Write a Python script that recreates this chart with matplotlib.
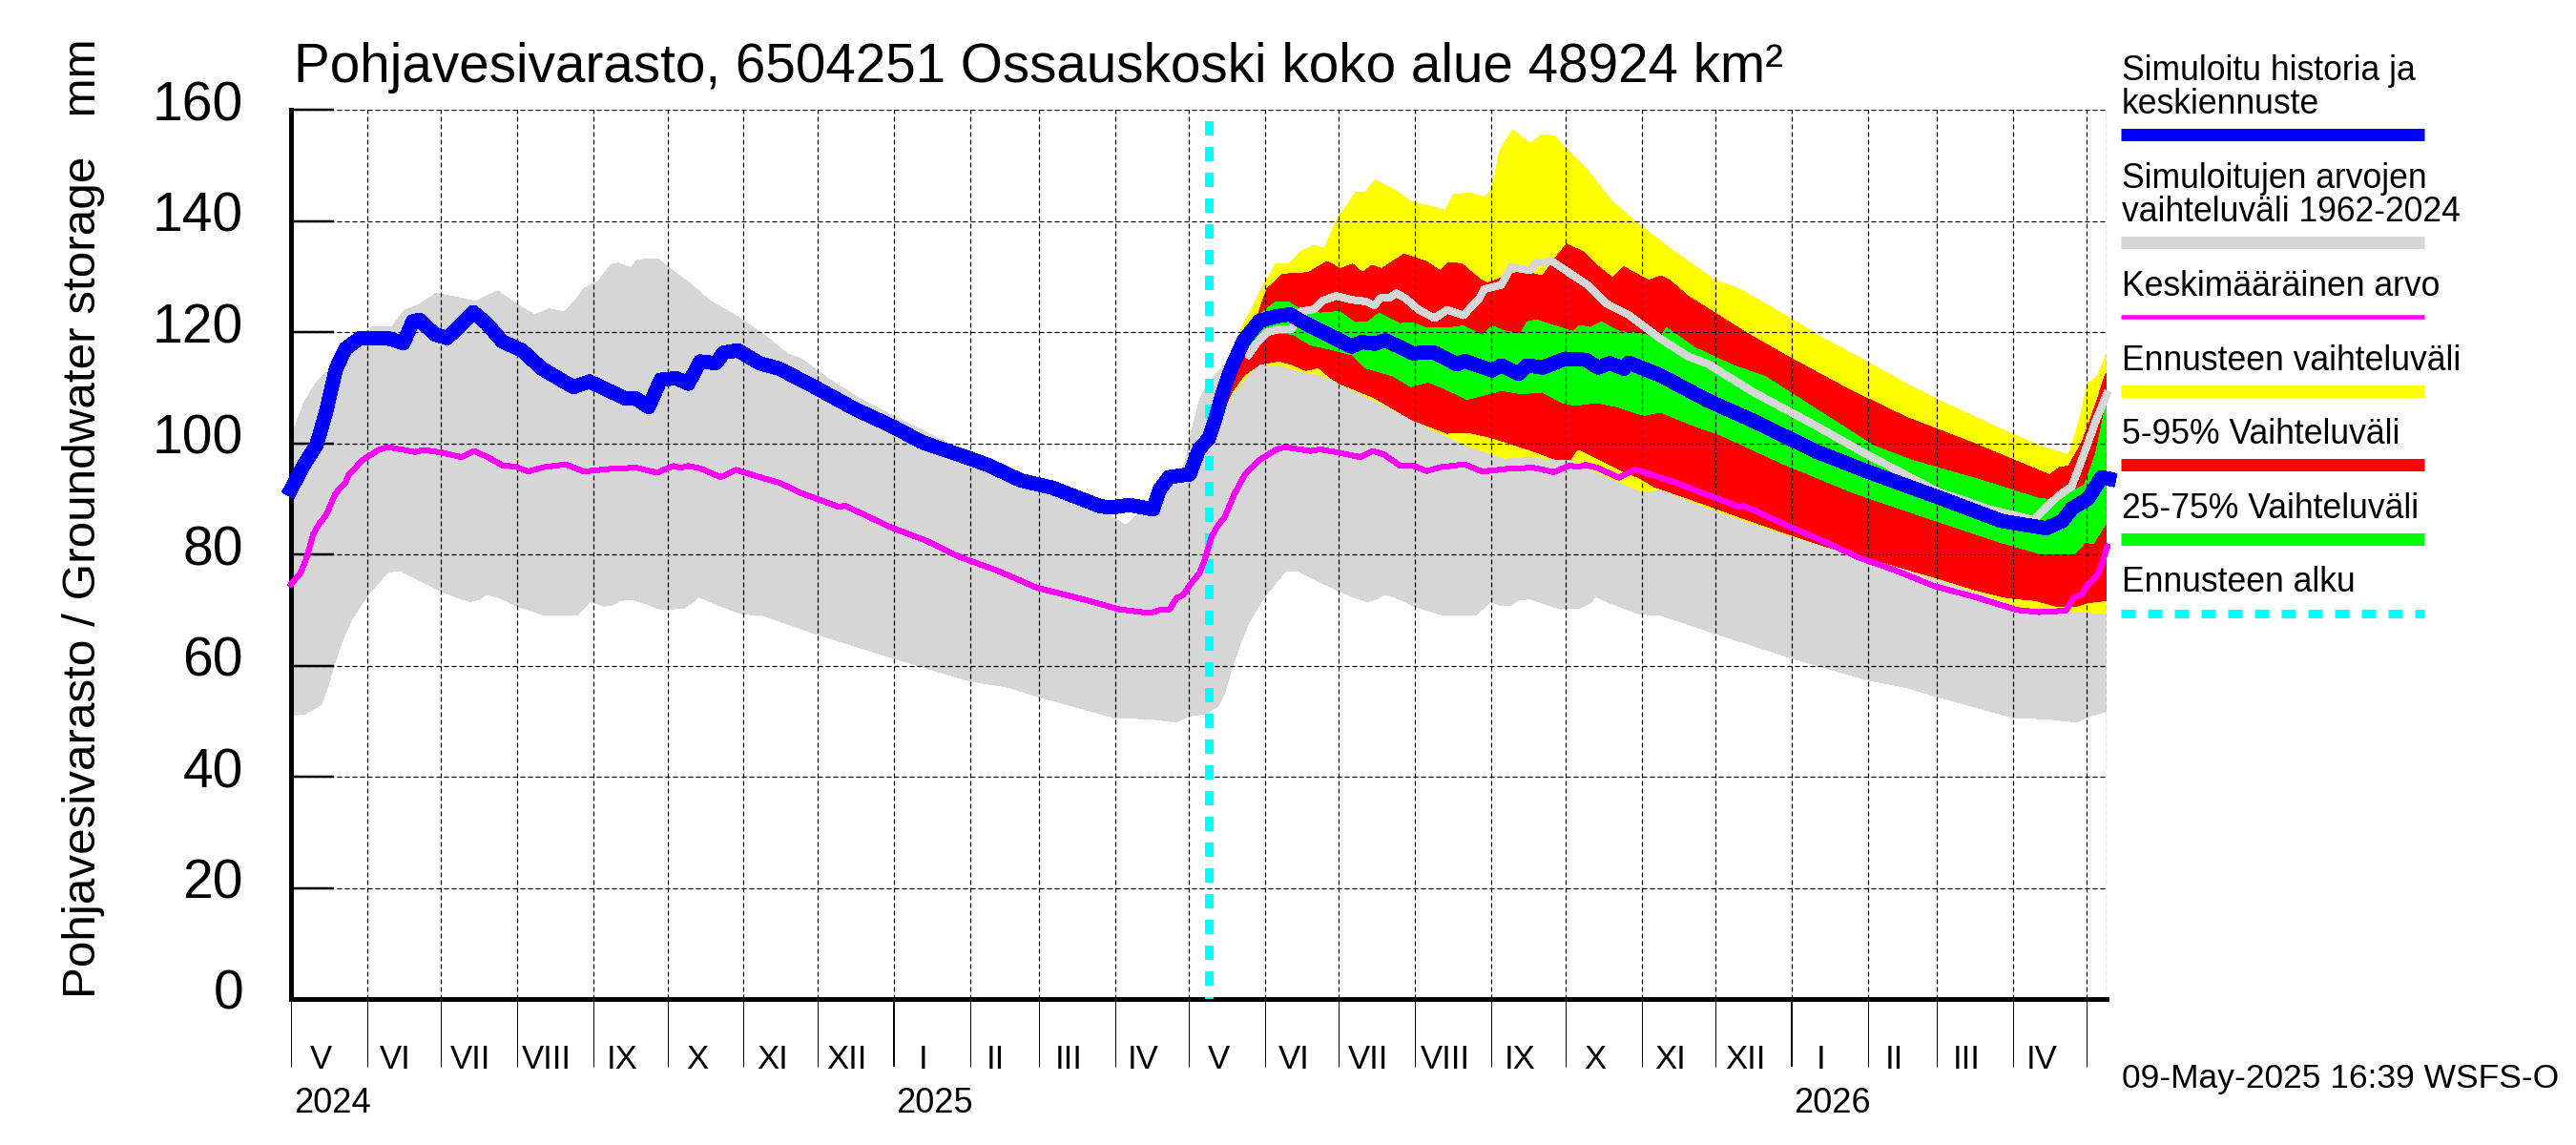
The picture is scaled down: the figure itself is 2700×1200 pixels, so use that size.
import numpy as np
import pandas as pd
import matplotlib
matplotlib.use('Agg')
import matplotlib.pyplot as plt
from matplotlib.lines import Line2D
from matplotlib.transforms import ScaledTranslation, blended_transform_factory

# all series are (days since 2024-05-01, mm)
gray_upper = [(0,101),(5.5,107.5),(10,110.7),(17,114),(23,117.3),(33,120.9),(41,120.9),(46,123.9),(52,124.9),(59,127),
              (68,126.2),(75,125.5),(84,127.4),(91,125.2),(99,123.1),(105,124.2),(111,123.6),(116,125.9),(119,127.8),(125,129.2),
              (130,132.1),(133,132.4),(138,131.6),(141,133),(149,133.2),(155,131.1),(162,128.8),(170,125.7),(181,122.9),(192,119.6),
              (202,116),(207,115.3),(219,111.4),(232,107.8),(248,104.2),(267,100),(277,98),(303,93.3),(322,89.9),(339.4,85.2),
              (345.9,87.9),(358.8,93),(363.3,96.2),(365.9,101.9),(369.5,108),(373,111),(379.5,114),(382.7,114.5)]
gray_line = [(389.2,115.9),(392.4,117.9),(397,120),(401.5,120.5),(406.7,120.5),(410.5,123.7),(415.7,124.1),(419.6,125.7),(424.8,126.5),
             (431.2,125.8),(437,125.5),(440.3,124.8),(442.9,126.1),(446.7,126.2),(449.3,127),(453.2,126),(458.4,124),(464.8,122.5),
             (470,124),(476.5,123),(483,126),(484.9,127.7),(492,128.5),(495.9,131.7),(503.6,131.1),(506.2,132.5),(512.7,132.7),
             (520.4,130.4),(526.9,128.5),(534.7,125.1),(543.7,123.1),(556.6,118.8),(568,115.6),(575.8,114.3),(594,109.3),(620,103.1),
             (640.8,97.9),(669.4,91.3),(690,88.2),(708.3,86.2),(713,88.2),(718.3,90.5),(723.8,92.2),(728.5,97.7),(733.5,103.9),(738,108.8)]
gray_lower = [(0,51),(5.8,51.3),(12.3,53),(14.9,56.1),(17.5,60.1),(21.3,65),(24.6,68.2),(31,72.6),(39.4,76.8),(44.3,77.1),
              (52.4,75.3),(61.4,73.3),(67.9,72.2),(72.8,71.5),(76.3,71.9),(79.5,72.8),(84.7,72.2),(92.4,70.6),(102.8,69.1),(116.4,69.1),
              (121.5,71.5),(127.4,70.7),(130.6,70.9),(133.8,71.7),(139,71.9),(150.6,70.1),(159.7,70.3),(163.6,71.5),(165.5,72.4),(171.3,71.3),
              (183,69.3),(192,69),(214,65.6),(245,61.3),(276,57.2),(291.6,56.1),(303.8,54.4),(334.9,50.6),(349.7,50.4),(360,49.8),
              (364.6,50.9),(371.7,51.3),(376.9,52.7),(379.5,55),(382,59),(386,64.1),(389.2,67.6),(395.7,72.4),(404.3,77),(409,77.1),
              (417,75.3),(426,73.4),(432.5,72.2),(437.4,71.5),(441,71.9),(444.4,72.8),(449.3,72.2),(457,70.6),(468,69.1),(481.7,69.1),
              (487.5,71.5),(492,70.8),(495.9,70.9),(499,71.8),(503.6,72),(515.9,70.2),(524.3,70.4),(528.2,71.3),(530.1,72.4),(536,71.3),
              (547.6,69.3),(557.3,69),(578.6,65.8),(609.7,61.4),(640.7,57.4),(656.2,56.1),(669.2,54.4),(700.2,50.6),(714.4,50.4),(726,49.8),
              (729.9,50.7),(738.3,51.8)]
mean_line = [(0,74.6),(3.9,76.7),(6.5,79.6),(9,83.6),(11.6,85.6),(14.2,87),(18.1,91),(22,92.8),(23.3,94.2),(29.1,97),
             (35.6,98.8),(39.2,99.3),(43.3,99),(45.9,98.8),(50.4,98.4),(53.7,98.8),(61.4,98.3),(69.2,97.5),(74.3,98.6),(79.5,97.6),
             (86,96),(91.2,95.8),(96.3,94.9),(102.8,95.7),(111.8,96.2),(119,94.9),(130,95.4),(140.3,95.6),(148.7,94.7),(155.2,95.9),
             (158.4,95.6),(161.6,95.9),(166.2,95.5),(174.6,93.9),(181,95.2),(192,93.7),(198.5,92.9),(207.5,91),(223,88.5),(225,88.8),
             (243.7,84.9),(258,82.5),(272,79.5),(286.4,77.2),(303.2,74),(321.3,72),(336.8,70.1),(345.9,69.6),(350.4,69.6),(353,70),
             (356.9,70),(360.1,72.2),(362.7,72.7),(365.3,74.5),(369.1,76.5),(371,78.5),(374.3,83.3),(376.9,85.3),(379.5,86.7),(383.4,90.8),
             (387.9,94.5),(393.7,97),(400.2,98.8),(404,99.3),(414.4,98.6),(418.3,98.9),(426,98.3),(434.5,97.5),(439.6,98.6),(444.2,98),
             (450.6,96),(455.8,96),(461.6,95),(467.4,95.7),(477.1,96.2),(484.2,94.9),(494.6,95.4),(504.9,95.6),(513.3,94.8),(519.8,96),
             (523,95.7),(526.3,96.1),(530.8,95.6),(539.8,93.8),(546.3,95.3),(556.6,93.8),(563.1,92.9),(572.2,91.3),(589,88.5),(590.3,88.8),
             (609,85),(623.9,82.2),(636.8,79.5),(651,77.3),(667.9,74.3),(684.7,72.3),(701.5,70),(710.5,69.6),(715.7,69.7),(721.5,69.9),
             (724.8,72.3),(728,72.8),(730.6,74.7),(734.4,76.4),(736.4,78.7),(738.3,81.4)]
blue_line = [(0,91.7),(5.5,96.3),(10.3,99.6),(14.2,105.5),(18.3,113.4),(22.2,117),(28,118.9),(39.2,118.9),(45.7,118),(49.5,121.9),
             (52.1,122.2),(58.5,119.6),(63.4,118.9),(69.8,121.6),(74,123.6),(79.4,121.6),(85.9,118.3),(93.9,116.7),(102,113.4),(114.8,110.1),
             (121.3,111.1),(135.7,108.1),(140,108.1),(145.4,106.5),(150.2,111.4),(156.6,111.7),(161.5,110.7),(166.3,114.7),(172.7,114.4),(175.9,116.3),
             (181.7,116.7),(190.4,114.4),(198.5,113.4),(212.9,110.1),(229,106.2),(245,102.9),(256.4,100.2),(275.6,97.3),(283.7,96),(296.6,93.3),
             (309.4,92),(328.7,88.7),(332.9,88.4),(340.7,88.9),(350.4,88.1),(353,91.6),(356.9,93.9),(365.3,94.4),(369.2,99),(373,100.8),
             (375.6,104.2),(378.9,109.3),(382.1,113.4),(387.3,118.5),(393.7,122),(400.2,122.8),(406,123.2),(410.5,122),(414.4,121.1),(424.8,118.8),
             (431.2,117.4),(435.1,118.2),(440.3,117.9),(444.8,118.5),(449.3,117.6),(455.8,116.2),(464.8,116.3),(473.9,114.2),(477.1,114.8),(488.1,113.1),
             (492,114),(499.1,112.5),(502.4,114),(508.8,113.6),(517.9,115.2),(526.3,115),(531.4,113.6),(536,114.4),(541.8,113.4),(543.7,114.5),
             (556.6,112.2),(575.8,107.7),(594,104.1),(620,98.5),(640.8,94.9),(669.4,90.3),(695.3,86),(713.5,84.7),(720,86),(724,88.3),
             (730.4,90),(736,93.9),(739,93.6)]
yellow_upper = [(373,100.8),(376,105),(380,110),(383,115),(386.2,120.5),(395.3,128.4),(400.5,132.3),(405.7,132.3),(410.9,134.6),(416,135.6),
                (420,135),(425.1,140.2),(430.3,143.5),(433,145.2),(436.8,145.2),(440.7,147.3),(449.8,145.2),(455,143.5),(469.3,141.9),(472.7,144.8),
                (479.7,145),(484.9,144.2),(488,145.5),(491.4,152.7),(496.6,156.3),(503.9,153.9),(508.3,155.5),(513.5,155.3),(518.7,152.7),(526.5,149.4),
                (536.9,143.5),(549.9,138.6),(562.8,134.3),(578.4,129.4),(588.8,127.7),(607,123.1),(622.6,118.9),(640.8,114.6),(656.4,110.7),(674.6,106.7),
                (695.3,102.5),(711,99.5),(722.6,97.9),(726.5,103.4),(730.4,110.7),(734.3,112),(738.2,116.2)]
yellow_lower = [(373,100.8),(382.7,109),(389.9,112.8),(393.7,114.2),(402.8,113.9),(411.8,112.8),(419.6,112.2),(426,110.8),(437.7,108.2),(450.6,105.6),
                (463.6,102.5),(477.8,99.6),(493.3,97.3),(503.6,97.6),(514,97),(520.4,97),(528.2,95.3),(549,91.3),(557.3,91.7),(578.6,87.9),
                (609.7,83.3),(633,80.2),(669,75.6),(691,72.4),(701.5,70.4),(717,69.9),(722.2,69.6),(729.9,69.6),(738.2,69.3)]
red_upper = [(376,103),(383.6,111.3),(390,119.2),(396.6,127.7),(403,130.4),(413.5,130.7),(421.2,132.7),(426.4,131.4),(431.6,132.2),(435.5,130.7),
             (439.4,132),(443.3,131.4),(452.4,134),(461.5,132.7),(467.2,131),(470.6,132.5),(475.8,132.3),(483.6,129.4),(486.2,128.8),(500,131),
             (508.8,130.1),(514.6,133.7),(518.5,135.8),(525,134.5),(530.8,132),(537.3,129.7),(541.8,131.7),(548.9,130),(552.1,129.3),(556.6,130.1),
             (560.2,129.4),(568,126.4),(581,122.8),(591.4,119.9),(609.6,115.3),(633,109.7),(656.4,104.7),(685,99.8),(714.8,94.3),(718.7,95.6),
             (722.6,95.9),(727.8,100),(729.2,101.6),(733.5,106.9),(737.4,112.3),(738.2,112.6)]
red_lower = [(376,103),(382.7,109.4),(387.3,112.2),(393.7,114.2),(401.5,114.8),(406.7,114.2),(412.5,113.1),(417.7,113.6),(422.2,111.9),(426,110.8),
             (440.3,108.2),(455.8,104.2),(470,101.8),(479,101.9),(488.1,101),(503.6,98.8),(514.6,97),(519.8,97),(523,99),(530.8,97.3),
             (539.8,95.3),(548.9,93.6),(554,92.2),(574.8,89),(589,86.7),(609,83.6),(629,80.7),(638,79.9),(652.3,77.9),(667.9,75.9),
             (684.7,73.6),(697.6,72.2),(709.2,71.7),(718.3,70.6),(726,70.7),(729.9,71.3),(738.2,71.7)]
green_upper = [(385,115),(390.5,121.4),(394.4,123.4),(400.2,125.4),(405.4,125.4),(410.5,124),(418.3,123.4),(426,123.7),(432.5,121.7),(437.7,121.8),
               (442.2,123.4),(450.6,121.5),(455.8,121.7),(461,120.8),(470,120.7),(476.5,121.1),(484.2,119.4),(488.1,121.1),(493.3,120.2),(499.8,119.7),
               (502.4,121.8),(506.2,122.2),(517.9,120.5),(521.1,120.1),(523.7,121.2),(528.2,120.8),(532.7,121.8),(539.8,120.1),(548.9,119.7),(556.6,118.8),
               (559,120.8),(570.6,117.2),(586.2,114),(599.2,112),(620,106.1),(643.4,99.5),(659,96.9),(685,93.6),(711,90),(715.7,89.9),
               (723.8,91.3),(729,92.5),(733.5,98),(738.2,108)]
green_lower = [(385,115),(397,120),(407.3,119.6),(414.4,117.7),(423.5,116.8),(431.2,115.9),(436.4,113.6),(448,112.1),(455.2,110.2),(462.3,111),
               (468.7,109.9),(477.8,107.9),(488.1,109),(492,109.5),(499.8,108.9),(508.8,109.2),(516.6,107.3),(521.7,106.8),(530.8,107.3),(539.8,106.5),
               (549.6,105),(556.6,105.6),(570.6,103.1),(581,101.5),(607,96.2),(635.6,91),(664.2,86.7),(695.3,82.1),(711.8,80),(724.8,80),
               (729.3,82.2),(732.5,81.9),(738.2,85.9)]
forecast_start = 373

y_ticks = [0, 20, 40, 60, 80, 100, 120, 140, 160]
month_names = ['V', 'VI', 'VII', 'VIII', 'IX', 'X', 'XI', 'XII', 'I', 'II', 'III', 'IV']
years = [2024, 2025, 2026]
legend_items = [(['Simuloitu historia ja', 'keskiennuste'], 'blue'),
                (['Simuloitujen arvojen', 'vaihteluväli 1962-2024'], 'gray'),
                (['Keskimääräinen arvo'], 'mean'),
                (['Ennusteen vaihteluväli'], 'yellow'),
                (['5-95% Vaihteluväli'], 'red'),
                (['25-75% Vaihteluväli'], 'green'),
                (['Ennusteen alku'], 'start')]

W, H = 2700, 1200
PT = 0.72  # points per pixel at dpi 100
GRAY = '#d6d6d6'
plt.rcParams['font.family'] = ['Liberation Sans', 'DejaVu Sans']
plt.rcParams['lines.scale_dashes'] = False
plt.rcParams['axes.axisbelow'] = False


def fx(px):
    return px / W


def fy(py):
    return 1 - py / H


def band(ax, upper, lower, color):
    up = np.array(upper)
    lo = np.array(lower)[::-1]
    ax.fill(np.r_[up[:, 0], lo[:, 0]], np.r_[up[:, 1], lo[:, 1]], color=color, lw=0, antialiased=False, zorder=1)


fig = plt.figure(figsize=(27, 12), dpi=100, facecolor='white')
ax = fig.add_axes([fx(305), fy(1047), fx(2208 - 305), 932 / H])

start = pd.Timestamp('2024-05-01')
months = pd.date_range(start, '2026-05-01', freq='MS')
month_days = [(m - start).days for m in months]

ax.set_xlim(0, 738)
ax.set_ylim(0, 160)

band(ax, gray_upper + gray_line, gray_lower, GRAY)
band(ax, yellow_upper, yellow_lower, '#ffff00')
band(ax, red_upper, red_lower, '#ff0000')
band(ax, green_upper, green_lower, '#00ff00')

grid_style = (0, (5 * PT, 3 * PT))
ax.grid(True, color='black', lw=1.2 * PT, linestyle=grid_style)
ax.axvline(738, color='black', lw=1.2 * PT, linestyle=grid_style, zorder=2.5)

ax.plot([forecast_start, forecast_start], [158, 0], color='#00ffff', lw=9 * PT,
        linestyle=(0, (15 * PT, 13 * PT)), dash_capstyle='butt', antialiased=False, zorder=3)
ax.plot(*np.array(gray_line).T, color=GRAY, lw=7 * PT, clip_on=False, antialiased=False, zorder=4)
ax.plot(*np.array(mean_line).T, color='#ff00ff', lw=5 * PT, clip_on=False, antialiased=False, zorder=5)
ax.plot(*np.array(blue_line).T, color='#0000ff', lw=14 * PT, clip_on=False, antialiased=False, zorder=6)

for side in ['top', 'right']:
    ax.spines[side].set_visible(False)
for side in ['left', 'bottom']:
    ax.spines[side].set_linewidth(5 * PT)

ax.set_yticks(y_ticks)
ax.tick_params(axis='y', direction='in', length=45 * PT, width=2.5 * PT, labelsize=41, pad=50 * PT)
up = ScaledTranslation(0, 10 / 100, fig.dpi_scale_trans)
for lbl in ax.get_yticklabels():
    lbl.set_transform(lbl.get_transform() + up)

ax.set_xticks(month_days)
ax.set_xticklabels([])
ax.tick_params(axis='x', direction='out', length=71 * PT, width=1 * PT)
for m, tick in zip(months, ax.xaxis.get_major_ticks()):
    if m.month == 1:
        tick.tick1line.set_markeredgewidth(2 * PT)

trans = blended_transform_factory(ax.transData, fig.transFigure)
left = ScaledTranslation(-9 / 100, 0, fig.dpi_scale_trans)
for m, d0, d1 in zip(months[:-1], month_days[:-1], month_days[1:]):
    ax.text((d0 + d1) / 2, fy(1120), month_names[(m.month - 5) % 12], transform=trans + left,
            ha='center', va='baseline', fontsize=25, clip_on=False)
for year, px in zip(years, [308, 939.5, 1880]):
    fig.text(fx(px), fy(1166), str(year), fontsize=26, ha='left', va='baseline')

fig.text(fx(308), fy(86), 'Pohjavesivarasto, 6504251 Ossauskoski koko alue 48924 km²', fontsize=40.8,
         ha='left', va='baseline')
fig.text(fx(100), fy(1046), 'Pohjavesivarasto / Groundwater storage   mm', fontsize=35.6, rotation=90,
         rotation_mode='anchor', ha='left', va='baseline')
fig.text(fx(2224), fy(1140), '09-May-2025 16:39 WSFS-O', fontsize=25.5, ha='left', va='baseline')

legend_styles = {'blue': ('#0000ff', 13, '-'), 'gray': (GRAY, 13, '-'), 'mean': ('#ff00ff', 4.5, '-'),
                 'yellow': ('#ffff00', 13, '-'), 'red': ('#ff0000', 13, '-'), 'green': ('#00ff00', 13, '-'),
                 'start': ('#00ffff', 9, (0, (15 * PT, 13 * PT)))}
baselines = [[84, 119], [197, 232], [310], [387.5], [465], [543], [620]]
line_ys = [141, 254, 332, 410, 487, 565, 643]
for (texts, key), bases, ly in zip(legend_items, baselines, line_ys):
    for txt, by in zip(texts, bases):
        fig.text(fx(2224), fy(by), txt, fontsize=25.6, ha='left', va='baseline')
    color, width, ls = legend_styles[key]
    fig.add_artist(Line2D([fx(2223), fx(2541)], [fy(ly), fy(ly)], color=color, lw=width * PT, linestyle=ls,
                          solid_capstyle='butt', dash_capstyle='butt'))

fig.savefig('out.png', dpi=100)
